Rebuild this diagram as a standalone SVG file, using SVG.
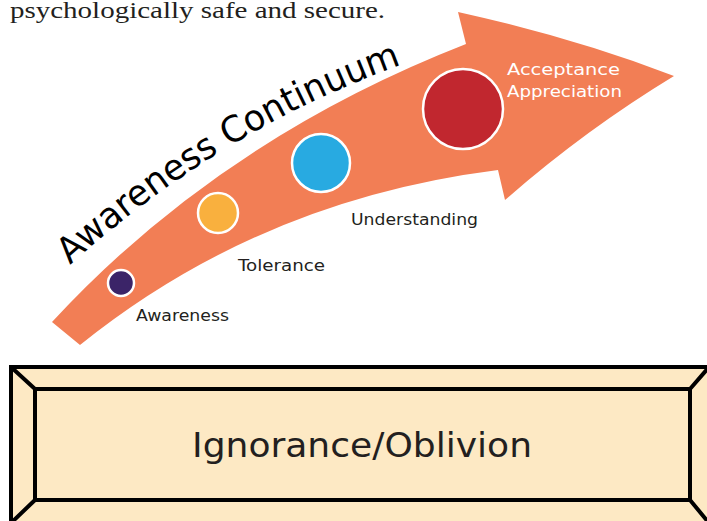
<svg xmlns="http://www.w3.org/2000/svg" width="707" height="521" viewBox="0 0 707 521">
<style>
.lbl{font-family:"DejaVu Sans","Liberation Sans",sans-serif;font-size:16px;fill:#231f20}
.dot{stroke:#ffffff;stroke-width:2.5}
</style>
<defs>
<path id="tp" d="M70,265 Q222,128 404,64"/>
</defs>
<rect width="707" height="521" fill="#ffffff"/>
<text x="10" y="18" font-family="Liberation Serif, serif" font-size="24" fill="#231f20" textLength="375" lengthAdjust="spacingAndGlyphs">psychologically safe and secure.</text>
<g id="arrow">
<path d="M52,322 Q220,140 466,44 L458,12 Q575,38 674,76 Q585,130 505,200 L498,170 Q260,200 80,345 Z" fill="#f27e55"/>
</g>
<g id="title">
<text font-family="DejaVu Sans, sans-serif" font-size="36" fill="#000000"><textPath href="#tp" textLength="390" lengthAdjust="spacingAndGlyphs">Awareness Continuum</textPath></text>
</g>
<g id="awareness">
<circle class="dot" cx="121" cy="283" r="13" fill="#3b2468"/>
<text class="lbl" x="136" y="321" textLength="93" lengthAdjust="spacingAndGlyphs">Awareness</text>
</g>
<g id="tolerance">
<circle class="dot" cx="218" cy="213" r="20" fill="#f9b03e"/>
<text class="lbl" x="238" y="271" textLength="87" lengthAdjust="spacingAndGlyphs">Tolerance</text>
</g>
<g id="understanding">
<circle class="dot" cx="321" cy="163" r="29" fill="#28aae1"/>
<text class="lbl" x="351" y="225" textLength="127" lengthAdjust="spacingAndGlyphs">Understanding</text>
</g>
<g id="acceptance">
<circle class="dot" cx="463" cy="109" r="40" fill="#c1272f"/>
<text class="lbl" x="507" y="75" style="fill:#ffffff" textLength="113" lengthAdjust="spacingAndGlyphs">Acceptance</text>
<text class="lbl" x="507" y="97" style="fill:#ffffff" textLength="115" lengthAdjust="spacingAndGlyphs">Appreciation</text>
</g>
<g id="ignorance">
<rect x="11" y="367" width="700" height="160" fill="#fde9c4" stroke="#000000" stroke-width="4"/>
<rect x="35" y="389" width="655" height="111" fill="#fde9c4" stroke="#000000" stroke-width="4"/>
<path d="M11,367 L35,389 M709,367 L690,389 M35,500 L11,523 M690,500 L709,523" stroke="#000000" stroke-width="4" fill="none"/>
<text x="362" y="457" text-anchor="middle" font-family="DejaVu Sans, sans-serif" font-size="34" fill="#231f20" textLength="340" lengthAdjust="spacingAndGlyphs">Ignorance/Oblivion</text>
</g>
</svg>
